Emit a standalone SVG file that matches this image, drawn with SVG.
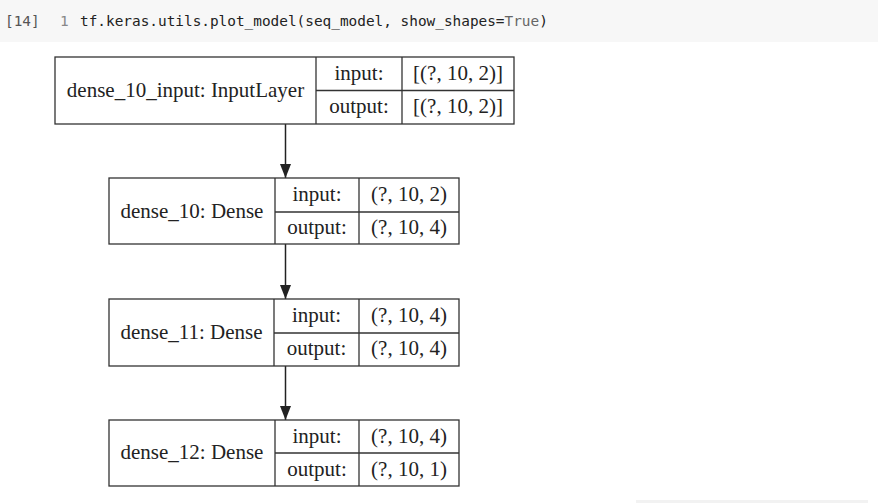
<svg xmlns="http://www.w3.org/2000/svg" width="878" height="503" viewBox="0 0 878 503">
<style>
.box{fill:#fff;stroke:#333;stroke-width:1.3}
.ln{stroke:#333;stroke-width:1.3}
.t{font-family:"Liberation Serif",serif;font-size:21px;fill:#222;text-anchor:middle}
.code{font-family:"DejaVu Sans Mono",monospace;font-size:14.4px;fill:#222}
.edge{stroke:#222;stroke-width:1.5;fill:none;marker-end:url(#ah)}
</style>
<defs>
<marker id="ah" viewBox="0 0 14 11" refX="14" refY="5.5" markerWidth="14" markerHeight="11" markerUnits="userSpaceOnUse" orient="auto">
<path d="M0,0 L14,5.5 L0,11 Z" fill="#222"/>
</marker>
</defs>
<rect x="0" y="0" width="878" height="42" fill="#f7f7f7"/>
<text x="5" y="26" class="code" style="fill:#555">[14]</text>
<text x="60" y="26" class="code" style="fill:#888">1</text>
<text x="80" y="26" class="code">tf.keras.utils.plot_model(seq_model, show_shapes=<tspan style="fill:#666">True</tspan>)</text>
<rect x="636" y="500" width="232" height="3" fill="#f2f2f2"/>

<g id="conn">
<path class="edge" d="M285.5,124 V178"/>
<path class="edge" d="M285.5,244 V299"/>
<path class="edge" d="M285.5,366 V420"/>
</g>

<g id="dense_10_input">
<rect class="box" x="55" y="57" width="459" height="67"/>
<line class="ln" x1="316" y1="57" x2="316" y2="124"/>
<line class="ln" x1="402" y1="57" x2="402" y2="124"/>
<line class="ln" x1="316" y1="90.5" x2="514" y2="90.5"/>
<text class="t" x="185.5" y="97">dense_10_input: InputLayer</text>
<text class="t" x="359" y="80">input:</text>
<text class="t" x="458" y="80">[(?, 10, 2)]</text>
<text class="t" x="359" y="113">output:</text>
<text class="t" x="458" y="113">[(?, 10, 2)]</text>
</g>

<g id="dense_10">
<rect class="box" x="109" y="178" width="350" height="66"/>
<line class="ln" x1="275" y1="178" x2="275" y2="244"/>
<line class="ln" x1="359" y1="178" x2="359" y2="244"/>
<line class="ln" x1="275" y1="212" x2="459" y2="212"/>
<text class="t" x="192" y="218">dense_10: Dense</text>
<text class="t" x="317" y="201">input:</text>
<text class="t" x="409" y="201">(?, 10, 2)</text>
<text class="t" x="317" y="234">output:</text>
<text class="t" x="409" y="234">(?, 10, 4)</text>
</g>

<g id="dense_11">
<rect class="box" x="109" y="299" width="350" height="67"/>
<line class="ln" x1="274" y1="299" x2="274" y2="366"/>
<line class="ln" x1="359" y1="299" x2="359" y2="366"/>
<line class="ln" x1="274" y1="333" x2="459" y2="333"/>
<text class="t" x="191.5" y="339">dense_11: Dense</text>
<text class="t" x="316.5" y="322">input:</text>
<text class="t" x="409" y="322">(?, 10, 4)</text>
<text class="t" x="316.5" y="355">output:</text>
<text class="t" x="409" y="355">(?, 10, 4)</text>
</g>

<g id="dense_12">
<rect class="box" x="109" y="420" width="350" height="66"/>
<line class="ln" x1="275" y1="420" x2="275" y2="486"/>
<line class="ln" x1="359" y1="420" x2="359" y2="486"/>
<line class="ln" x1="275" y1="453" x2="459" y2="453"/>
<text class="t" x="192" y="459">dense_12: Dense</text>
<text class="t" x="317" y="443">input:</text>
<text class="t" x="409" y="443">(?, 10, 4)</text>
<text class="t" x="317" y="476">output:</text>
<text class="t" x="409" y="476">(?, 10, 1)</text>
</g>
</svg>
